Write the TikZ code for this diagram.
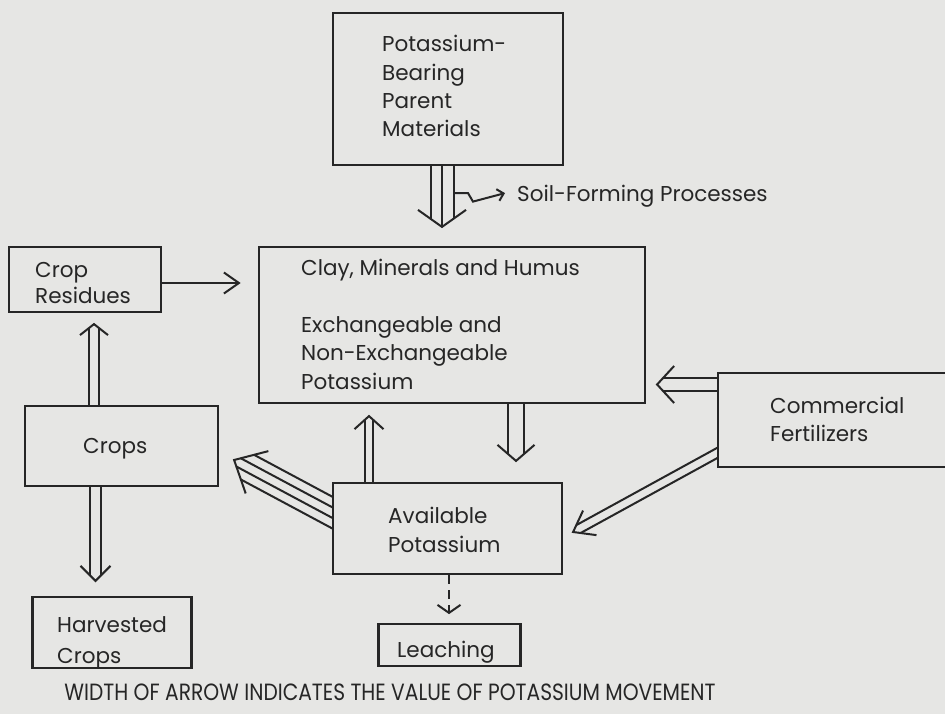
\documentclass[tikz,border=0pt]{standalone}
\usepackage{fontspec}
\setmainfont{Poppins}
\usetikzlibrary{calc,arrows.meta}
\definecolor{bgc}{HTML}{E6E6E4}
\definecolor{ink}{HTML}{262626}
\pgfdeclarelayer{bglayer}
\pgfdeclarelayer{arrowlayer}
\pgfsetlayers{bglayer,arrowlayer,main}
\tikzset{
  box/.style={draw=ink, fill=bgc, line width=2.2pt, rectangle, inner sep=0pt},
  lbl/.style={anchor=base west, inner sep=0pt, text=ink, font=\fontsize{21.5}{28}\selectfont},
  kline/.style={draw=ink, line width=2pt},
}
\newcommand\karrow[7][]{%
  \path #2 coordinate (kas) #3 coordinate (kat);
  \path let \p1=(kas), \p2=(kat) in \pgfextra{%
     \pgfmathsetmacro\kaang{atan2(\y2-\y1,\x2-\x1)}%
     \pgfmathsetmacro\kalen{veclen(\x2-\x1,\y2-\y1)}%
     \global\let\kaangg\kaang \global\let\kalenn\kalen};
  \begin{scope}[shift={(kas)}, rotate=\kaangg, x=1pt, y=1pt]
    \foreach \i in {1,...,#4}{%
      \pgfmathsetmacro\yy{-#5/2+(\i-1)*#5/max(#4-1,1)}%
      \pgfmathsetmacro\xe{\kalenn-#7*abs(\yy)/#6}%
      \draw[kline,#1] (0,\yy) -- (\xe,\yy);}
    \draw[kline, line join=miter] (\kalenn-#7,#6) -- (\kalenn,0) -- (\kalenn-#7,-#6);
  \end{scope}}
\begin{document}
\begin{tikzpicture}[x=1pt,y=-1pt]
\begin{pgfonlayer}{bglayer}
\fill[bgc] (0,0) rectangle (945,714);
\end{pgfonlayer}
\useasboundingbox (0,0) rectangle (945,714);
\clip (0,0) rectangle (945,714);
% boxes
\node[box, minimum width=230pt, minimum height=152pt] (parent) at (448,89) {};
\node[box, minimum width=386pt, minimum height=156pt] (clay) at (452,325) {};
\node[box, minimum width=152pt, minimum height=65pt] (residues) at (85,279.5) {};
\node[box, minimum width=193pt, minimum height=80pt] (crops) at (121.5,446) {};
\node[box, minimum width=159pt, minimum height=71pt] (harvested) at (112,632.5) {};
\node[box, minimum width=229pt, minimum height=91pt] (avail) at (447.5,528.5) {};
\node[box, minimum width=142pt, minimum height=42pt] (leach) at (449.5,645) {};
\node[box, minimum width=242pt, minimum height=94pt] (fert) at (839,420) {};
% texts
\node[lbl] (p1) at (382,52) {Potassium-};
\node[lbl] (p2) at (382,81) {Bearing};
\node[lbl] (p3) at (382,109) {Parent};
\node[lbl] (p4) at (382,137) {Materials};
\node[lbl] (c1) at (301,275) {Clay, Minerals and Humus};
\node[lbl] (c2) at (301,332) {Exchangeable and};
\node[lbl] (c3) at (301,360) {Non-Exchangeable};
\node[lbl] (c4) at (301,389) {Potassium};
\node[lbl] (r1) at (35,277) {Crop};
\node[lbl] (r2) at (35,303) {Residues};
\node[lbl] (cr) at (83,453) {Crops};
\node[lbl] (h1) at (57,632) {Harvested};
\node[lbl] (h2) at (57,663) {Crops};
\node[lbl] (a1) at (388,523) {Available};
\node[lbl] (a2) at (388,552) {Potassium};
\node[lbl] (f1) at (770,413) {Commercial};
\node[lbl] (f2) at (770,441) {Fertilizers};
\node[lbl] (lt) at (397,657) {Leaching};
\node[lbl] (soil) at (517,202) {Soil-Forming Processes};
\node[lbl, anchor=base, font=\fontsize{23.5}{26}\selectfont] (cap) at (390,700) {\scalebox{0.86}[1]{WIDTH OF ARROW INDICATES THE VALUE OF POTASSIUM MOVEMENT}};
% arrows
\begin{pgfonlayer}{arrowlayer}
\karrow{($(parent.south)+(-6,0)$)}{($(clay.north)+(-10,-19)$)}{3}{23}{24}{17}
\karrow{($(residues.east)+(0,3.5)$)}{($(clay.west)+(-19,-42)$)}{1}{0}{10.5}{15}
\karrow{($(crops.north)+(-27.5,0)$)}{($(residues.south)+(9,11)$)}{2}{10.5}{14}{11}
\karrow{($(crops.south)+(-26,0)$)}{($(harvested.north)+(-16.5,-15)$)}{2}{11}{15}{15}
\karrow{($(avail.north)+(-78.5,0)$)}{($(clay.south)+(-83,12)$)}{2}{8}{14.5}{13}
\karrow{($(clay.south)+(64,0)$)}{($(avail.north)+(68.5,-21)$)}{2}{16}{18.5}{16}
\karrow{($(avail.west)+(15,-8.1)$)}{($(crops.east)+(15,14)$)}{4}{28}{24}{26}
\karrow{($(fert.west)+(0,-35.5)$)}{($(clay.east)+(11,59.5)$)}{2}{13}{18.5}{17}
\karrow{($(fert.west)+(15,24.9)$)}{($(avail.east)+(10,3.5)$)}{2}{9}{14}{19}
\karrow[dash pattern=on 9pt off 6pt]{($(avail.south)+(1.5,0)$)}{($(leach.north)+(-0.5,-10)$)}{1}{0}{11.5}{8}
\coordinate (sf) at ($(parent.south)+(5,27)$);
\draw[kline, -{Straight Barb[length=6pt,width=12pt,line width=2pt]}] (sf) -- ++(15,0) .. controls ++(3,4) .. ++(5,8.5) -- ($(sf)+(52,0)$);
\end{pgfonlayer}
\end{tikzpicture}
\end{document}
